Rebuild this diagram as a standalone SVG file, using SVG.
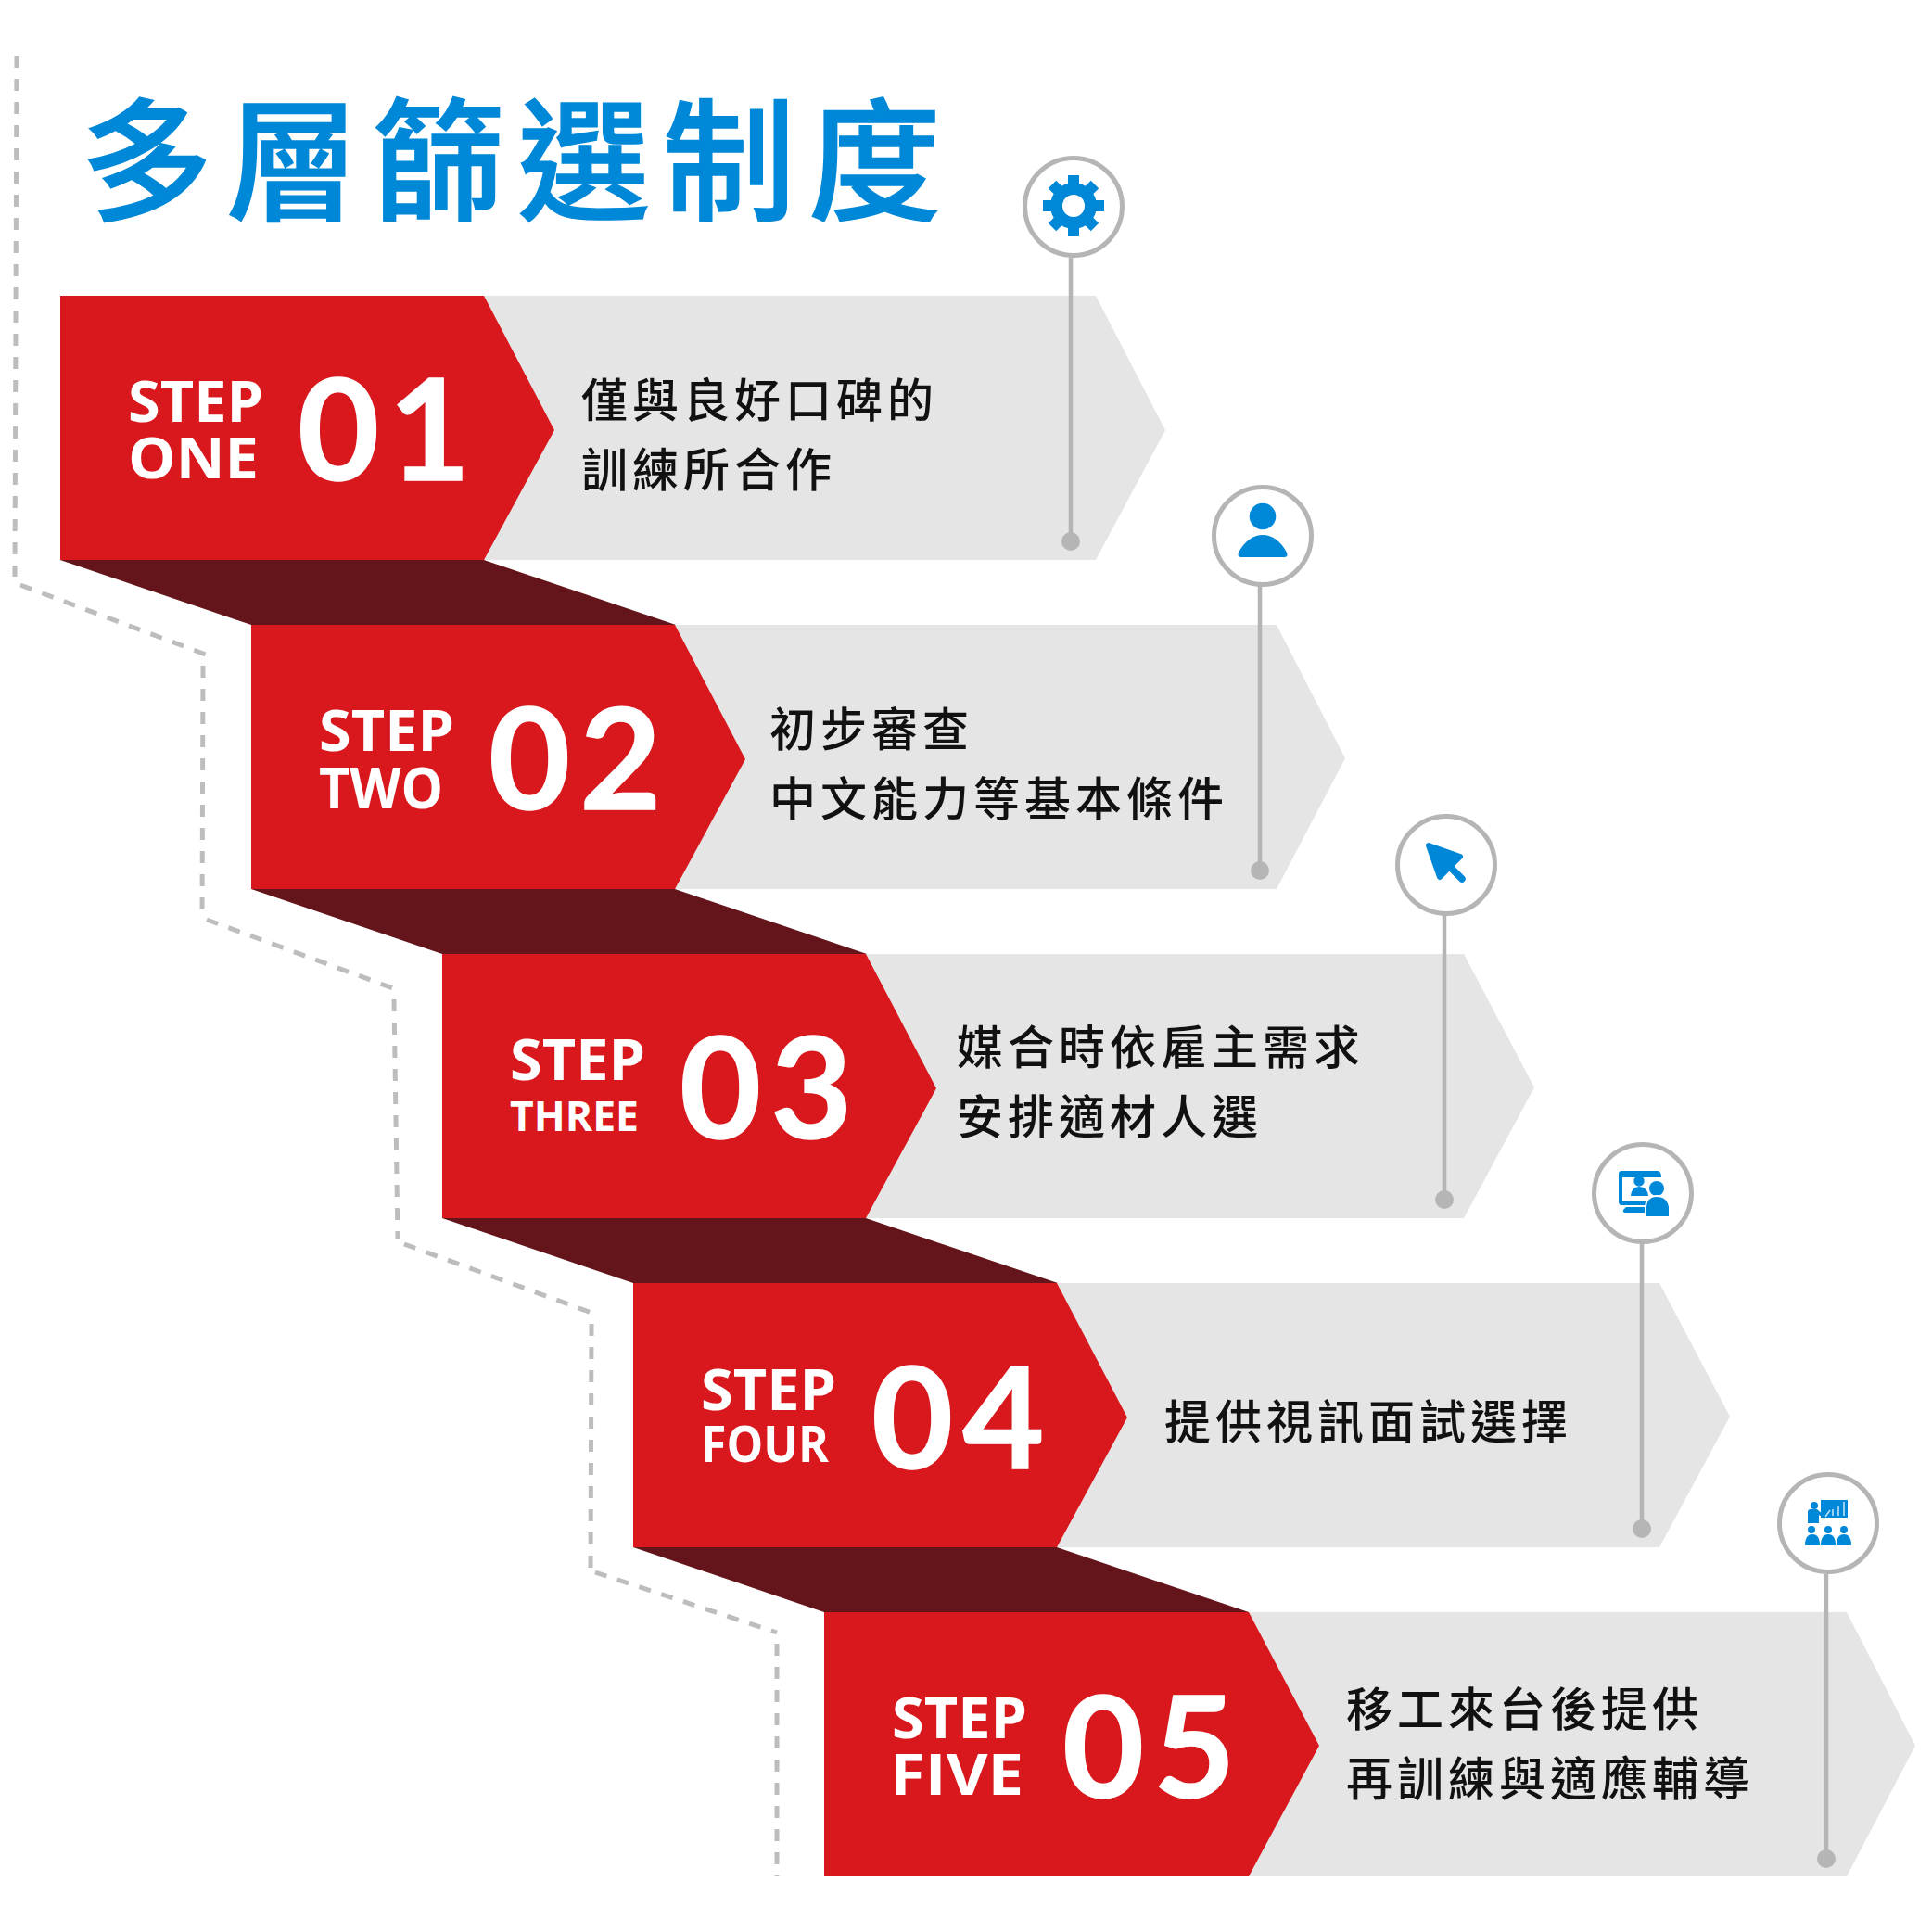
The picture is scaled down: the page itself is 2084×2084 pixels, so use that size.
<svg xmlns="http://www.w3.org/2000/svg" width="2084" height="2084" viewBox="0 0 2084 2084">
<style>
text{font-family:"Noto Sans CJK TC","Noto Sans CJK SC",sans-serif}
.title{font-size:143px;font-weight:500;fill:#0088d8;stroke:#0088d8;stroke-width:1.5px;letter-spacing:14px}
.body{font-size:50px;font-weight:500;fill:#111;letter-spacing:5px}
.step{font-family:"Open Sans",sans-serif;font-size:61px;font-weight:700;fill:#fff}
.num{font-family:Lato,sans-serif;font-size:152px;font-weight:700;fill:#fff;stroke:#fff;stroke-width:1.5px;letter-spacing:10px}
.red{fill:#d8181d}.grey{fill:#e5e5e5}.dark{fill:#64151b}
.ring{fill:#fff;stroke:#b5b5b5;stroke-width:5}
.stem{fill:none;stroke:#b5b5b5;stroke-width:4.5}
.dot{fill:#b5b5b5}
.ic{fill:#0088d8}
.dash{fill:none;stroke:#bdbdbd;stroke-width:5;stroke-dasharray:13 12}
</style>
<text class="title" x="87" y="227">多層篩選制度</text>
<g id="step1">
<polygon class="dark" points="65,604 522,604 729,674 271,674"/>
<polygon class="grey" points="522,319 1182,319 1257,464 1182,604 522,604"/>
<polygon class="red" points="65,319 522,319 598,464 522,604 65,604"/>
<text class="step" x="138" y="455" textLength="146" lengthAdjust="spacingAndGlyphs">STEP</text><text class="step" x="138" y="516" textLength="141" lengthAdjust="spacingAndGlyphs">ONE</text>
<text class="num" x="321" y="518">01</text>
<text class="body" x="627" y="450">僅與良好口碑的</text><text class="body" x="627" y="525">訓練所合作</text>
</g>
<g id="step2">
<polygon class="dark" points="271,959 728,959 935,1029 477,1029"/>
<polygon class="grey" points="728,674 1377,674 1451,818 1377,959 728,959"/>
<polygon class="red" points="271,674 728,674 804,819 728,959 271,959"/>
<text class="step" x="344" y="810" textLength="146" lengthAdjust="spacingAndGlyphs">STEP</text><text class="step" x="344" y="872" textLength="134" lengthAdjust="spacingAndGlyphs">TWO</text>
<text class="num" x="527" y="873">02</text>
<text class="body" x="830" y="805">初步審查</text><text class="body" x="830" y="880">中文能力等基本條件</text>
</g>
<g id="step3">
<polygon class="dark" points="477,1314 934,1314 1141,1384 683,1384"/>
<polygon class="grey" points="934,1029 1579,1029 1655,1173 1579,1314 934,1314"/>
<polygon class="red" points="477,1029 934,1029 1010,1174 934,1314 477,1314"/>
<text class="step" x="550" y="1165" textLength="146" lengthAdjust="spacingAndGlyphs">STEP</text><text class="step" x="550" y="1220" style="font-size:45px" textLength="139" lengthAdjust="spacingAndGlyphs">THREE</text>
<text class="num" x="733" y="1228">03</text>
<text class="body" x="1032" y="1148">媒合時依雇主需求</text><text class="body" x="1032" y="1223">安排適材人選</text>
</g>
<g id="step4">
<polygon class="dark" points="683,1669 1140,1669 1347,1739 889,1739"/>
<polygon class="grey" points="1140,1384 1790,1384 1866,1528 1790,1669 1140,1669"/>
<polygon class="red" points="683,1384 1140,1384 1216,1529 1140,1669 683,1669"/>
<text class="step" x="756" y="1521" textLength="146" lengthAdjust="spacingAndGlyphs">STEP</text><text class="step" x="756" y="1577" style="font-size:54px" textLength="138" lengthAdjust="spacingAndGlyphs">FOUR</text>
<text class="num" x="940" y="1584">04</text>
<text class="body" x="1256" y="1552">提供視訊面試選擇</text>
</g>
<g id="step5">
<polygon class="grey" points="1347,1739 1992,1739 2066,1883 1992,2024 1347,2024"/>
<polygon class="red" points="889,1739 1347,1739 1423,1883 1347,2024 889,2024"/>
<text class="step" x="962" y="1875" textLength="146" lengthAdjust="spacingAndGlyphs">STEP</text><text class="step" x="960" y="1936" textLength="144" lengthAdjust="spacingAndGlyphs">FIVE</text>
<text class="num" x="1146" y="1939">05</text>
<text class="body" x="1452" y="1862">移工來台後提供</text><text class="body" x="1452" y="1937">再訓練與適應輔導</text>
</g>
<g id="connectors">
<path class="dash" d="M18 60L16 622M22 631L222 706M219 718L218 990M223 992L424 1066M425 1078L429 1336M436 1342L638 1416M638 1428L637 1691M642 1696L838 1761M838 1773V2024"/>
<path class="stem" d="M1155 278V584M1359 632V938M1558 986V1294M1771 1342V1649M1970 1698V2004"/>
<circle class="dot" cx="1155" cy="584" r="10"/><circle class="dot" cx="1359" cy="939" r="10"/><circle class="dot" cx="1558" cy="1294" r="10"/><circle class="dot" cx="1771" cy="1649" r="10"/><circle class="dot" cx="1970" cy="2005" r="10"/>
</g>
<g id="icon1">
<circle class="ring" cx="1158" cy="223" r="52.5"/>
<circle class="ic" cx="1158" cy="222" r="25"/>
<path fill="none" stroke="#0088d8" stroke-width="12" d="M1158 189V255M1125 222H1191M1135 199L1181 245M1181 199L1135 245"/>
<circle cx="1158" cy="222" r="12" fill="#fff"/>
</g>
<g id="icon2">
<circle class="ring" cx="1362" cy="578" r="52.5"/>
<circle class="ic" cx="1362" cy="557" r="14.3"/>
<path class="ic" d="M1339 601Q1334 601 1336 596C1342 584 1352 577 1362 577C1372 577 1382 584 1388 596Q1390 601 1385 601Z"/>
</g>
<g id="icon3">
<circle class="ring" cx="1560" cy="933" r="52.5"/>
<path class="ic" stroke="#0088d8" stroke-width="6" stroke-linejoin="round" d="M1541 912L1575 924L1553 946Z"/>
<path fill="none" stroke="#0088d8" stroke-width="7.5" stroke-linecap="round" d="M1560 931L1577 948"/>
</g>
<g id="icon4">
<circle class="ring" cx="1772" cy="1287" r="52.5"/>
<path class="ic" d="M1749 1263H1788Q1792 1263 1792 1270H1750V1296H1775V1300H1749Q1746 1300 1746 1296V1266Q1746 1263 1749 1263ZM1754 1302H1775V1308H1753Q1750 1308 1751 1305Z"/>
<circle class="ic" cx="1768" cy="1274" r="5.7"/><path class="ic" d="M1759 1290Q1760 1280 1768 1280Q1777 1280 1778 1290Z"/>
<circle class="ic" cx="1787" cy="1282" r="8"/><path class="ic" stroke="#fff" stroke-width="2" d="M1775 1313V1302Q1776 1290 1787 1290Q1799 1290 1801 1302V1313Z"/>
</g>
<g id="icon5">
<circle class="ring" cx="1972" cy="1643" r="52.5"/>
<rect class="ic" x="1964" y="1618" width="29" height="19"/>
<path fill="none" stroke="#bfe0f5" stroke-width="1.6" d="M1977 1635V1628M1983 1635V1625M1989 1635V1620M1969 1636L1974 1629"/>
<circle class="ic" cx="1957" cy="1624" r="4"/><path class="ic" d="M1950 1631Q1950 1628 1953 1628H1960L1969 1636L1968 1638L1962 1634V1643H1950Z"/>
<circle class="ic" cx="1954" cy="1650" r="4"/><path class="ic" d="M1947 1667Q1947 1655 1955 1655Q1963 1655 1963 1667Z"/>
<circle class="ic" cx="1972" cy="1650" r="4"/><path class="ic" d="M1964 1667Q1964 1655 1972 1655Q1980 1655 1980 1667Z"/>
<circle class="ic" cx="1989" cy="1650" r="4"/><path class="ic" d="M1981 1667Q1981 1655 1989 1655Q1997 1655 1997 1667Z"/>
</g>
</svg>
